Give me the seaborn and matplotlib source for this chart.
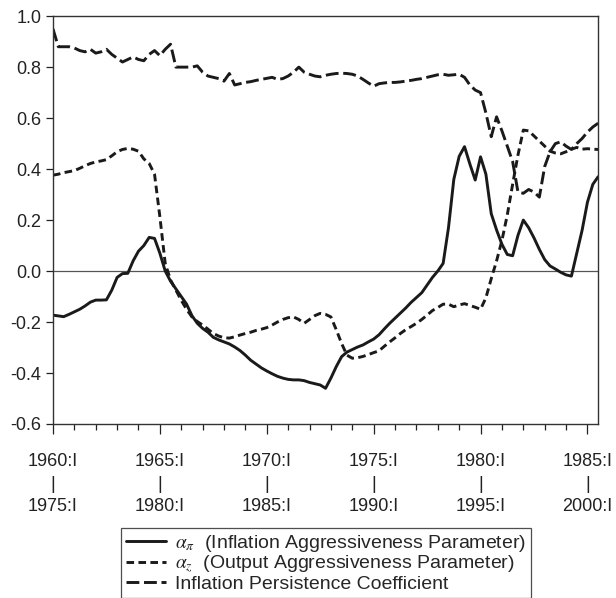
import numpy as np
import pandas as pd
import seaborn as sns
import matplotlib.pyplot as plt
from matplotlib.ticker import MultipleLocator

# quarterly estimates, 1960:I .. 1985:III
start_year = 1960
alpha_pi = [-0.173, -0.176, -0.179, -0.17, -0.16, -0.15, -0.137, -0.122, -0.114, -0.114,
            -0.113, -0.075, -0.025, -0.01, -0.009, 0.04, 0.078, 0.10, 0.132, 0.128,
            0.07, 0.0, -0.04, -0.07, -0.10, -0.13, -0.175, -0.205, -0.225, -0.24,
            -0.26, -0.27, -0.278, -0.286, -0.298, -0.312, -0.33, -0.35, -0.365, -0.38,
            -0.392, -0.403, -0.413, -0.42, -0.425, -0.427, -0.427, -0.43, -0.437, -0.442,
            -0.447, -0.46, -0.42, -0.375, -0.336, -0.318, -0.308, -0.298, -0.29, -0.278,
            -0.267, -0.25, -0.227, -0.205, -0.185, -0.165, -0.145, -0.123, -0.104, -0.085,
            -0.055, -0.025, 0.0, 0.03, 0.17, 0.36, 0.45, 0.488, 0.42, 0.357,
            0.448, 0.38, 0.225, 0.161, 0.105, 0.065, 0.06, 0.14, 0.20, 0.17,
            0.13, 0.085, 0.045, 0.02, 0.008, -0.005, -0.015, -0.02, 0.07, 0.16,
            0.27, 0.34, 0.37]
alpha_z = [0.376, 0.38, 0.386, 0.39, 0.394, 0.403, 0.413, 0.422, 0.428, 0.432,
           0.437, 0.452, 0.468, 0.477, 0.481, 0.478, 0.47, 0.44, 0.422, 0.38,
           0.213, 0.03, -0.035, -0.075, -0.115, -0.15, -0.18, -0.198, -0.212, -0.228,
           -0.245, -0.255, -0.262, -0.263, -0.258, -0.251, -0.245, -0.24, -0.233, -0.228,
           -0.222, -0.212, -0.2, -0.19, -0.183, -0.18, -0.19, -0.205, -0.19, -0.175,
           -0.166, -0.17, -0.18, -0.23, -0.284, -0.33, -0.342, -0.34, -0.335, -0.328,
           -0.32, -0.313, -0.295, -0.278, -0.262, -0.245, -0.23, -0.218, -0.205, -0.19,
           -0.173, -0.155, -0.143, -0.13, -0.13, -0.14, -0.133, -0.128, -0.135, -0.142,
           -0.15, -0.105, -0.03, 0.04, 0.12, 0.22, 0.34, 0.455, 0.553, 0.55,
           0.53, 0.51, 0.49, 0.47, 0.463, 0.46, 0.468, 0.478, 0.485, 0.478,
           0.48, 0.478, 0.477]
persistence = [0.95, 0.88, 0.88, 0.88, 0.875, 0.865, 0.86, 0.87, 0.855, 0.86,
               0.87, 0.85, 0.835, 0.82, 0.83, 0.84, 0.83, 0.825, 0.85, 0.865,
               0.845, 0.87, 0.89, 0.80, 0.80, 0.80, 0.80, 0.805, 0.78, 0.765,
               0.76, 0.755, 0.745, 0.775, 0.73, 0.735, 0.74, 0.743, 0.748, 0.752,
               0.756, 0.76, 0.752, 0.755, 0.765, 0.78, 0.80, 0.78, 0.772, 0.765,
               0.762, 0.768, 0.772, 0.775, 0.776, 0.775, 0.772, 0.765, 0.752, 0.738,
               0.725, 0.735, 0.738, 0.74, 0.74, 0.742, 0.745, 0.748, 0.752, 0.755,
               0.76, 0.765, 0.77, 0.772, 0.768, 0.77, 0.772, 0.76, 0.73, 0.71,
               0.70, 0.62, 0.527, 0.605, 0.55, 0.49, 0.43, 0.31, 0.305, 0.32,
               0.31, 0.29, 0.41, 0.468, 0.50, 0.507, 0.49, 0.477, 0.50, 0.52,
               0.545, 0.565, 0.58]

labels = [r"$\alpha_\pi$  (Inflation Aggressiveness Parameter)",
          r"$\alpha_z$  (Output Aggressiveness Parameter)",
          "Inflation Persistence Coefficient"]
top_years = ["1960:I", "1965:I", "1970:I", "1975:I", "1980:I", "1985:I"]
bottom_years = ["1975:I", "1980:I", "1985:I", "1990:I", "1995:I", "2000:I"]

t = start_year + np.arange(len(alpha_pi)) / 4.0
df = pd.DataFrame({"t": np.tile(t, 3),
                   "value": alpha_pi + alpha_z + persistence,
                   "series": np.repeat(labels, len(t))})

sns.set_style("ticks")
plt.rcParams["font.family"] = ["Liberation Sans", "DejaVu Sans"]
plt.rcParams["mathtext.fontset"] = "stix"
plt.rcParams["axes.unicode_minus"] = False

fig = plt.figure(figsize=(6.16, 5.98), dpi=100)
ax = fig.add_axes([0.086, 0.291, 0.885, 0.682])

styles = {labels[0]: "-",
          labels[1]: (0, (2.6, 1.5)),
          labels[2]: (0, (4.4, 1.6))}
for lab in labels:
    sns.lineplot(data=df[df.series == lab], x="t", y="value", ax=ax,
                 color="#1a1a1a", linewidth=2.1, linestyle=styles[lab],
                 label=lab, legend=False)

ax.axhline(0, color="#555555", linewidth=0.9, zorder=0)

ax.set_xlim(1960, 1985.5)
ax.set_ylim(-0.6, 1.0)
ax.set_xlabel("")
ax.set_ylabel("")
ax.yaxis.set_major_locator(MultipleLocator(0.2))
ax.yaxis.set_major_formatter(plt.FormatStrFormatter("%.1f"))
ax.set_xticks([1960, 1965, 1970, 1975, 1980, 1985])
ax.set_xticklabels([a + "\n|\n" + b for a, b in zip(top_years, bottom_years)],
                   linespacing=1.42)
ax.xaxis.set_minor_locator(MultipleLocator(1))
ax.tick_params(axis="x", which="major", length=7, width=0.9, pad=14,
               labelsize=13, colors="#222222")
ax.tick_params(axis="x", which="minor", length=4, width=0.9, colors="#222222")
ax.tick_params(axis="y", length=5, width=0.9, labelsize=13, colors="#222222")
for s in ax.spines.values():
    s.set_color("#333333")
    s.set_linewidth(1.0)

handles = ax.get_lines()[:3]
leg = fig.legend(handles, labels, loc="upper left",
                 bbox_to_anchor=(0.196, 0.117), frameon=True, fancybox=False,
                 edgecolor="#222222", fontsize=14, handlelength=2.1,
                 handletextpad=0.45, labelspacing=0.0, borderpad=0.25,
                 borderaxespad=0)
leg.get_frame().set_linewidth(0.9)

fig.savefig("out.png", dpi=100)
